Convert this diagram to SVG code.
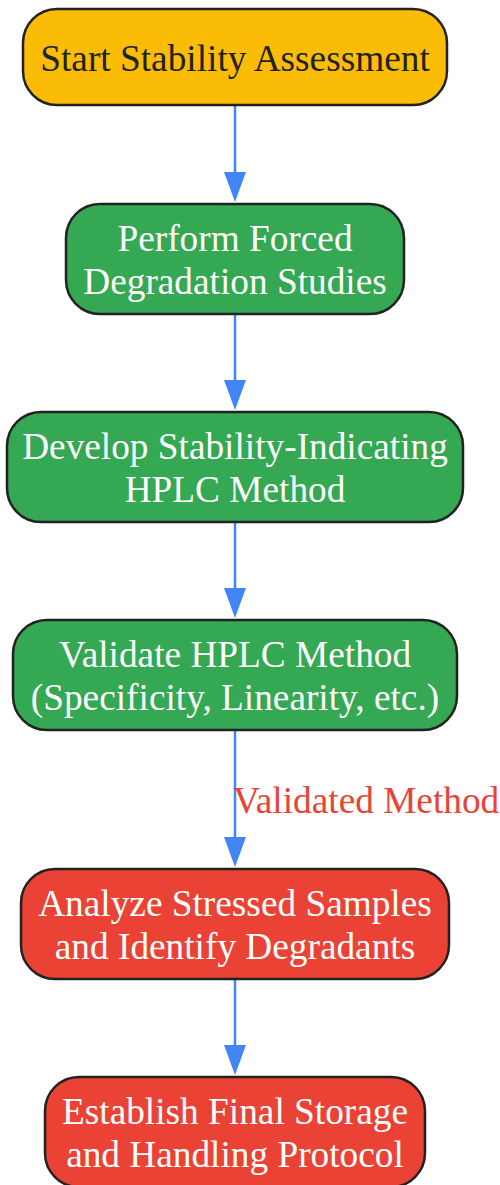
<svg xmlns="http://www.w3.org/2000/svg" width="500" height="1185" viewBox="0 0 500 1185">
<style>
.n rect{stroke:#222;stroke-width:2.5}
.t{font-family:"Liberation Serif","Times New Roman",serif;font-size:37.3px;text-anchor:middle}
.w{fill:#fff}
.e{stroke:#4285F4;stroke-width:2.5;fill:none}
.ah{fill:#4285F4}
.lbl{font-family:"Liberation Serif","Times New Roman",serif;font-size:37.3px;fill:#EA4335}
</style>
<g id="connectors">
<path class="e" d="M235,105 V172"/><path class="ah" d="M224,172 L246,172 L235,202 Z"/>
<path class="e" d="M235,314 V380"/><path class="ah" d="M224,380 L246,380 L235,410 Z"/>
<path class="e" d="M235,522 V588"/><path class="ah" d="M224,588 L246,588 L235,618 Z"/>
<path class="e" d="M235,730 V837"/><path class="ah" d="M224,837 L246,837 L235,867 Z"/>
<path class="e" d="M235,979 V1045"/><path class="ah" d="M224,1045 L246,1045 L235,1075 Z"/>
<text class="lbl" x="233" y="813">Validated Method</text>
</g>
<g id="n1" class="n">
<rect x="23" y="9" width="424" height="96" rx="34" fill="#FBBC05"/>
<text class="t" x="235" y="71" fill="#222">Start Stability Assessment</text>
</g>
<g id="n2" class="n">
<rect x="66" y="204" width="338" height="110" rx="34" fill="#34A853"/>
<text class="t w" x="235" y="251">Perform Forced</text>
<text class="t w" x="235" y="294">Degradation Studies</text>
</g>
<g id="n3" class="n">
<rect x="7" y="412" width="456" height="110" rx="34" fill="#34A853"/>
<text class="t w" x="235" y="459">Develop Stability-Indicating</text>
<text class="t w" x="235" y="502">HPLC Method</text>
</g>
<g id="n4" class="n">
<rect x="13" y="620" width="444" height="110" rx="34" fill="#34A853"/>
<text class="t w" x="235" y="667">Validate HPLC Method</text>
<text class="t w" x="235" y="710">(Specificity, Linearity, etc.)</text>
</g>
<g id="n5" class="n">
<rect x="21" y="869" width="428" height="110" rx="34" fill="#EA4335"/>
<text class="t w" x="235" y="916">Analyze Stressed Samples</text>
<text class="t w" x="235" y="959">and Identify Degradants</text>
</g>
<g id="n6" class="n">
<rect x="45" y="1077" width="380" height="110" rx="34" fill="#EA4335"/>
<text class="t w" x="235" y="1124">Establish Final Storage</text>
<text class="t w" x="235" y="1167">and Handling Protocol</text>
</g>
</svg>
